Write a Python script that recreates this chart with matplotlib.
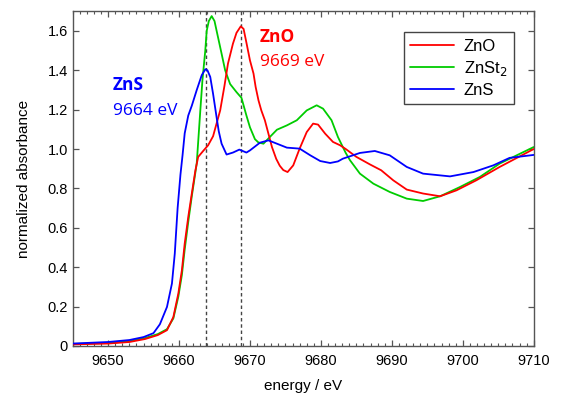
import matplotlib
matplotlib.use("Agg")
import matplotlib.pyplot as plt
from matplotlib.ticker import MultipleLocator, FuncFormatter

plt.rcParams['font.family'] = ['Liberation Sans', 'DejaVu Sans']

# ---- data ----
e_zns = [9645, 9650, 9653, 9655, 9656.4, 9657.3, 9658.3, 9659.0, 9659.4, 9659.8,
         9660.2, 9660.5, 9660.8, 9661.3, 9661.8, 9662.5, 9663.2, 9663.7, 9664.0,
         9664.4, 9664.8, 9665.3, 9665.6, 9666.0, 9666.7, 9667.6, 9668.5, 9669.5,
         9670.0, 9671.4, 9672.6, 9673.8, 9675.2, 9677.0, 9678.5, 9679.9, 9681.3,
         9682.4, 9683.1, 9685.5, 9687.6, 9689.7, 9692.1, 9694.4, 9698.2, 9701.5,
         9704.3, 9706.6, 9710]
a_zns = [0.012, 0.02, 0.03, 0.045, 0.065, 0.11, 0.198, 0.317, 0.469, 0.70,
         0.87, 0.97, 1.08, 1.17, 1.22, 1.30, 1.375, 1.405, 1.40,
         1.366, 1.28, 1.16, 1.09, 1.027, 0.972, 0.982, 0.997, 0.982,
         0.993, 1.032, 1.044, 1.027, 1.007, 1.002, 0.968, 0.939, 0.929,
         0.937, 0.951, 0.98, 0.99, 0.968, 0.909, 0.875, 0.861, 0.883,
         0.917, 0.955, 0.97]

e_zno = [9645, 9650, 9653, 9655.2, 9657, 9658.3, 9659.2, 9659.9, 9660.4, 9660.8,
         9661.3, 9661.8, 9662.3, 9662.7, 9663.4, 9664.1, 9664.8, 9665.8, 9666.4,
         9666.9, 9667.6, 9668.1, 9668.7, 9669.1, 9669.5, 9670.0, 9670.5, 9670.8,
         9671.2, 9671.6, 9672.1, 9672.6, 9673.1, 9673.7, 9674.2, 9674.7, 9675.3,
         9676.1, 9677.0, 9678.0, 9678.9, 9679.6, 9680.6, 9681.7, 9682.7, 9683.5,
         9685.0, 9686.9, 9688.5, 9690.2, 9692.1, 9694.4, 9696.8, 9699.1, 9701.9,
         9705.2, 9710]
a_zno = [0.008, 0.012, 0.02, 0.035, 0.055, 0.08, 0.147, 0.266, 0.384, 0.52,
         0.655, 0.774, 0.89, 0.96, 0.99, 1.019, 1.065, 1.196, 1.32,
         1.434, 1.535, 1.59, 1.623, 1.61, 1.54, 1.45, 1.383, 1.315,
         1.247, 1.196, 1.146, 1.078, 1.01, 0.95, 0.915, 0.893, 0.883,
         0.917, 1.002, 1.086, 1.129, 1.124, 1.078, 1.036, 1.019, 1.0,
         0.96, 0.922, 0.892, 0.841, 0.794, 0.774, 0.76, 0.79, 0.841,
         0.909, 1.0]

e_znst2 = [9645, 9650, 9653, 9655.2, 9657, 9658.3, 9659.2, 9659.9, 9660.4, 9660.8,
           9661.3, 9661.8, 9662.3, 9662.5, 9663.0, 9663.3, 9663.7, 9663.9, 9664.2,
           9664.6, 9665.0, 9665.3, 9666.0, 9666.5, 9667.2, 9668.1, 9668.8, 9669.5,
           9670.0, 9670.7, 9671.2, 9671.9, 9672.8, 9673.8, 9675.2, 9676.6, 9678.0,
           9679.4, 9680.3, 9681.5, 9682.4, 9683.5, 9684.1, 9685.5, 9687.4, 9689.7,
           9692.1, 9694.4, 9696.8, 9699.6, 9702.4, 9705.2, 9710]
a_znst2 = [0.01, 0.015, 0.024, 0.04, 0.06, 0.085, 0.14, 0.25, 0.36, 0.49,
           0.63, 0.76, 0.88, 0.93, 1.196, 1.35, 1.50, 1.60, 1.65,
           1.675, 1.65, 1.60, 1.484, 1.40, 1.33, 1.289, 1.26, 1.17,
           1.11, 1.05, 1.033, 1.027, 1.061, 1.098, 1.12, 1.146, 1.196,
           1.222, 1.205, 1.146, 1.061, 0.98, 0.943, 0.875, 0.824, 0.782,
           0.748, 0.736, 0.76, 0.807, 0.858, 0.926, 1.01]

edge_positions = [9663.8, 9668.7]
y_ticks = [0, 0.2, 0.4, 0.6, 0.8, 1.0, 1.2, 1.4, 1.6]

fig = plt.figure(figsize=(5.63, 3.99), dpi=100)
ax = fig.add_axes([0.129, 0.133, 0.819, 0.839])

for x in edge_positions:
    ax.axvline(x, color='#444444', lw=1.0, linestyle=(0, (2.5, 2)), zorder=1)

style = dict(lw=1.3, solid_joinstyle='round', solid_capstyle='round')
ax.plot(e_zno, a_zno, color='#ff0000', label='ZnO', zorder=3, **style)
ax.plot(e_znst2, a_znst2, color='#00cc00', label='ZnSt$_2$', zorder=2, **style)
ax.plot(e_zns, a_zns, color='#0000ff', label='ZnS', zorder=4, **style)

ax.set_xlim(9645, 9710)
ax.set_ylim(0, 1.70)
ax.xaxis.set_major_locator(MultipleLocator(10))
ax.xaxis.set_minor_locator(MultipleLocator(1))
ax.set_yticks(y_ticks)
ax.yaxis.set_major_formatter(FuncFormatter(lambda v, p: '0' if abs(v) < 1e-9 else f'{v:.1f}'))

ax.tick_params(axis='both', which='both', direction='in', top=True, right=True,
               color='#555555', labelsize=10.5)
ax.tick_params(axis='both', which='major', length=4.5, width=0.9)
ax.tick_params(axis='both', which='minor', length=2.5, width=0.8)
ax.tick_params(axis='x', which='major', pad=6)
ax.tick_params(axis='y', which='major', pad=3.5)
for s in ax.spines.values():
    s.set_color('#555555')
    s.set_linewidth(1.0)

ax.set_xlabel('energy / eV', fontsize=11, labelpad=8)
ax.set_ylabel('normalized absorbance', fontsize=11, labelpad=12)

ann = ['Open Sans', 'DejaVu Sans']
ax.text(9650.7, 1.298, 'ZnS', color='#0000ff', fontsize=12.5, fontweight='bold',
        family=ann, va='baseline', ha='left')
ax.text(9650.7, 1.171, '9664 eV', color='#0000ff', fontsize=12.5,
        family=ann, va='baseline', ha='left')
ax.text(9671.4, 1.542, 'ZnO', color='#ff0000', fontsize=12.5, fontweight='bold',
        family=ann, va='baseline', ha='left')
ax.text(9671.4, 1.42, '9669 eV', color='#ff0000', fontsize=12.5,
        family=ann, va='baseline', ha='left')

leg = ax.legend(loc='upper right', bbox_to_anchor=(0.957, 0.938), borderaxespad=0,
                fontsize=12, handlelength=2.6, handletextpad=0.6, labelspacing=0.3,
                fancybox=False, framealpha=1, borderpad=0.4)
leg.get_frame().set_edgecolor('#444444')
leg.get_frame().set_linewidth(1.0)

fig.savefig('out.png', dpi=100)
